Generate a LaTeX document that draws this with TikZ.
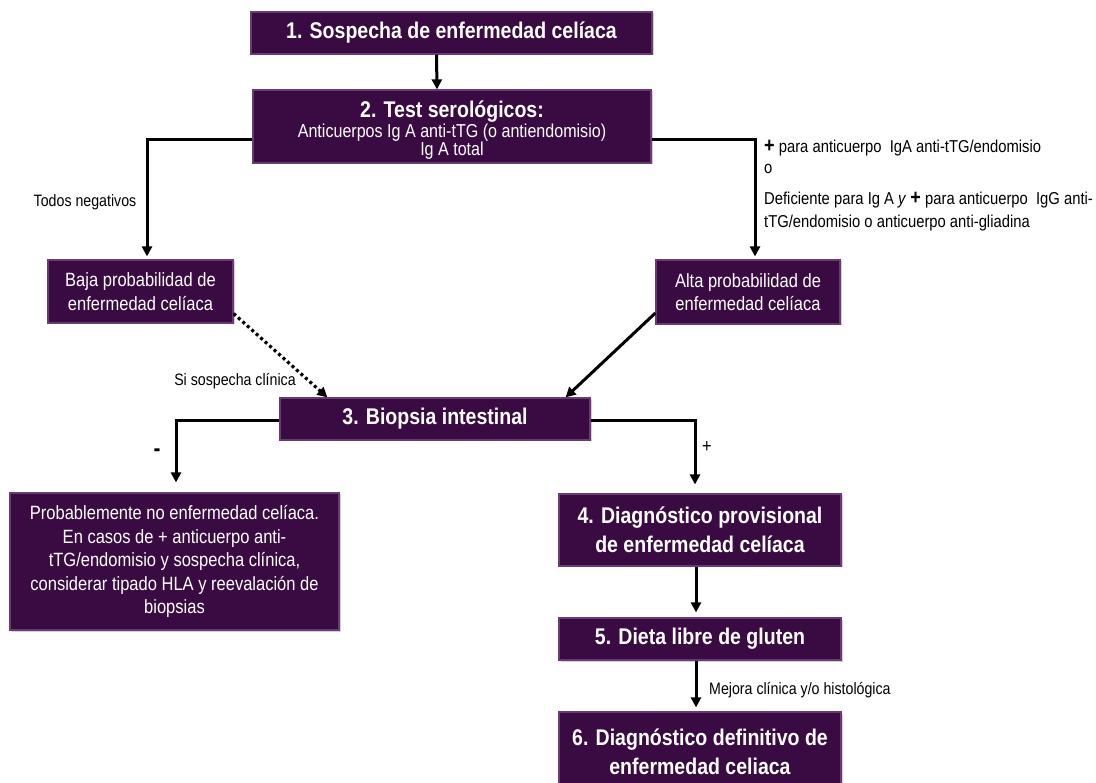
\documentclass[tikz,border=0pt]{standalone}
\usepackage{fontspec}
\setmainfont{Liberation Sans}[FakeStretch=0.86]
\usetikzlibrary{arrows.meta,shadows}
\definecolor{boxfill}{HTML}{3A0B42}
\definecolor{boxedge}{HTML}{6A3A72}
\begin{document}
\begin{tikzpicture}[x=1pt,y=-1pt,
  box/.style={fill=boxfill, draw=boxedge, line width=1.2pt, text=white, align=center,
    inner sep=0pt, drop shadow={shadow xshift=1.5pt, shadow yshift=-1.5pt, opacity=0.35}},
  big/.style={font=\bfseries\fontsize{22.7}{29}\selectfont},
  mid/.style={font=\fontsize{19.2}{23.5}\selectfont},
  lbl/.style={font=\fontsize{16.5}{18}\selectfont, inner sep=0pt},
  rlbl/.style={font=\fontsize{17.2}{18}\selectfont, inner sep=0pt, anchor=west},
  txt/.style={text=white, align=center, inner sep=0pt},
  arr/.style={line width=3pt, -{Triangle[length=10pt,width=10pt]}},
  dotarr/.style={line width=3.2pt, dash pattern=on 3pt off 3pt, -{Triangle[length=10pt,width=10pt]}}
]
\useasboundingbox (0,0) rectangle (1096,783);

% boxes
\node[box, big, minimum width=401, minimum height=42] (b1) at (451.5,33) {1. Sospecha de enfermedad celíaca};
\node[box, minimum width=398, minimum height=73] (b2) at (452,126.5) {};
\node[txt, big] (b2a) at (452,112) {2. Test serológicos:};
\node[txt, font=\fontsize{18.7}{20}\selectfont] (b2b) at (452,133) {Anticuerpos Ig A anti-tTG (o antiendomisio)};
\node[txt, font=\fontsize{18.7}{20}\selectfont] (b2c) at (452,151) {Ig A total};

\node[box, mid, minimum width=185, minimum height=63] (baja) at (140.5,291.5) {Baja probabilidad de\\enfermedad celíaca};
\node[box, mid, minimum width=184, minimum height=64] (alta) at (748,292) {Alta probabilidad de\\enfermedad celíaca};

\node[box, big, minimum width=310, minimum height=42] (b3) at (435,419) {3. Biopsia intestinal};

\node[box, mid, minimum width=329, minimum height=137] (prob) at (174.5,561.5)
  {Probablemente no enfermedad celíaca.\\En casos de + anticuerpo anti-\\tTG/endomisio y sospecha clínica,\\considerar tipado HLA y reevalación de\\biopsias};

\node[box, big, minimum width=282, minimum height=72] (b4) at (700,530) {4. Diagnóstico provisional\\de enfermedad celíaca};
\node[box, big, minimum width=282, minimum height=42] (b5) at (700,639) {5. Dieta libre de gluten};
\node[box, big, minimum width=282, minimum height=80] (b6) at (700,752) {6. Diagnóstico definitivo de\\enfermedad celiaca};

% connectors
\draw[arr] ([xshift=-15]b1.south) -- ([xshift=-15]b2.north);
\draw[arr] ([yshift=-13.5]b2.west) -| ([xshift=6.5,yshift=3]baja.north);
\draw[arr] ([yshift=-13.5]b2.east) -| ([xshift=7,yshift=3]alta.north);
\draw[dotarr] ([yshift=10]baja.south east) -- ([xshift=48]b3.north west);
\draw[arr] ([yshift=-21]alta.west) -- ([xshift=-25]b3.north east);
\draw[arr] ([yshift=-2]b3.west) -| ([xshift=1.5,yshift=10]prob.north);
\draw[arr] ([yshift=-2]b3.east) -| ([xshift=-5,yshift=9]b4.north);
\draw[arr] ([xshift=-4]b4.south) -- ([xshift=-4,yshift=5]b5.north);
\draw[arr] ([xshift=-4]b5.south) -- ([xshift=-4,yshift=4]b6.north);

% labels
\node[lbl] (l1) at (85,202) {Todos negativos};
\node[rlbl] (r1) at (764,148) {{\bfseries\fontsize{21}{18}\selectfont +} para anticuerpo\ \ IgA anti-tTG/endomisio};
\node[rlbl] (r2) at (764,169) {o};
\node[rlbl] (r3) at (764,200) {Deficiente para Ig A \textit{y} {\bfseries\fontsize{21}{18}\selectfont +}\ para anticuerpo\ \ IgG anti-};
\node[rlbl] (r4) at (764,223) {tTG/endomisio o anticuerpo anti-gliadina};
\node[lbl] (l2) at (235,381) {Si sospecha clínica};
\node[font=\bfseries\fontsize{24}{24}\selectfont, inner sep=0pt] (mn) at (157,453) {-};
\node[font=\fontsize{19}{19}\selectfont, inner sep=0pt] (pl) at (707,447) {+};
\node[lbl, anchor=west] (l3) at (709,690) {Mejora clínica y/o histológica};
\end{tikzpicture}
\end{document}
